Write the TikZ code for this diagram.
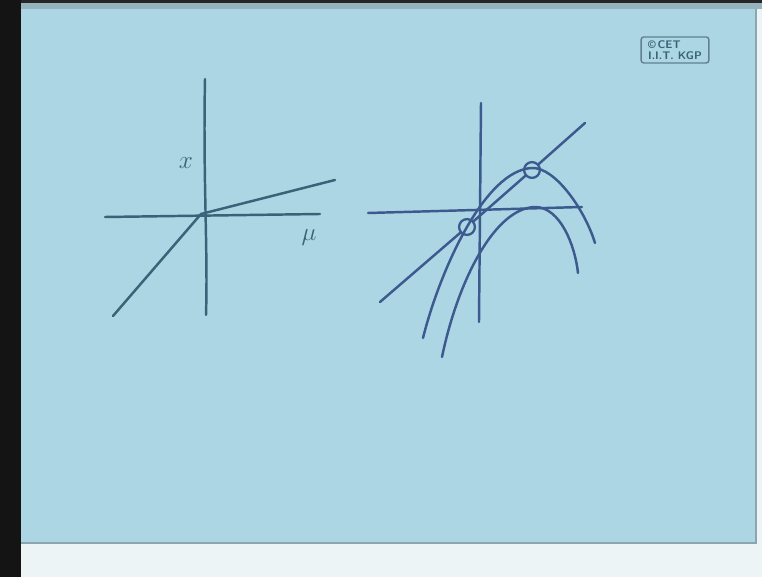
\documentclass[tikz,border=0pt]{standalone}
\usepackage{amsmath, amssymb}
\usepackage{xcolor}
\usepackage{tikz}
\usetikzlibrary{calc, positioning}

\definecolor{paper}{RGB}{172,214,227}
\definecolor{paperedge}{RGB}{140,165,175}
\definecolor{inkL}{RGB}{58,98,120}
\definecolor{inkR}{RGB}{60,90,142}
\definecolor{floor}{RGB}{236,244,245}

\begin{document}
\begin{tikzpicture}[x=0.02cm, y=-0.02cm,
    pen/.style={line width=1.4pt, line cap=round, line join=round},
    handlab/.style={inner sep=0pt, font=\fontsize{15}{15}\selectfont},
    ring/.style={circle, draw=inkR, line width=1.3pt, minimum size=9pt, inner sep=0pt}]
            \useasboundingbox (0,0) rectangle (762,577);
            
            % photo background
            \fill[floor] (0,0) rectangle (762,577);
            \fill[black!92] (0,0) rectangle (21,577);
            \fill[black!85] (21,0) rectangle (762,3);
            \fill[paper] (21,3) rectangle (756,543);
            \fill[paperedge!70!paper] (21,3) rectangle (762,9);
            \draw[paperedge, line width=1.2pt] (21,543) -- (756,543) -- (756,9);
            
            % copyright box
            \node[draw=inkL!80, rounded corners=1.5pt, line width=0.8pt, align=left,
                  inner xsep=4pt, inner ysep=2pt, text=inkL,
                  font=\sffamily\bfseries\fontsize{6.3}{6.3}\selectfont] (cet) at (675,50)
                  {\textcopyright\,CET\\I.I.T. KGP};
            
            % left sketch
            \coordinate (O1) at (201,214);
            \draw[pen, inkL] (205,79) .. controls (203,180) and (208,250) .. (206,315);
            \draw[pen, inkL] (105,217) -- (320,214);
            \draw[pen, inkL] (113,316) -- (O1) -- (335,180);
            \node[handlab, text=inkL] (xlab) at (186,163) {$x$};
            \node[handlab, text=inkL] (mulab) at (309,238) {$\mu$};
            
            % right sketch
            \draw[pen, inkR] (481,103) -- (479,322);
            \draw[pen, inkR] (368,213) -- (582,207);
            \node[ring] (lo) at (467,227) {};
            \node[ring] (hi) at (532,170) {};
            \coordinate (tail) at (380,302);
            \coordinate (head) at (585,123);
            \draw[pen, inkR] (tail) -- (lo) -- (hi) -- (head);
            \draw[pen, inkR] (423,338) .. controls (440,270) and (485,170) .. (532,168)
                .. controls (555,167) and (585,210) .. (595,243);
            \draw[pen, inkR] (442,357) .. controls (458,280) and (495,208) .. (535,207)
                .. controls (560,207) and (575,245) .. (578,273);
        \end{tikzpicture}
\end{document}
